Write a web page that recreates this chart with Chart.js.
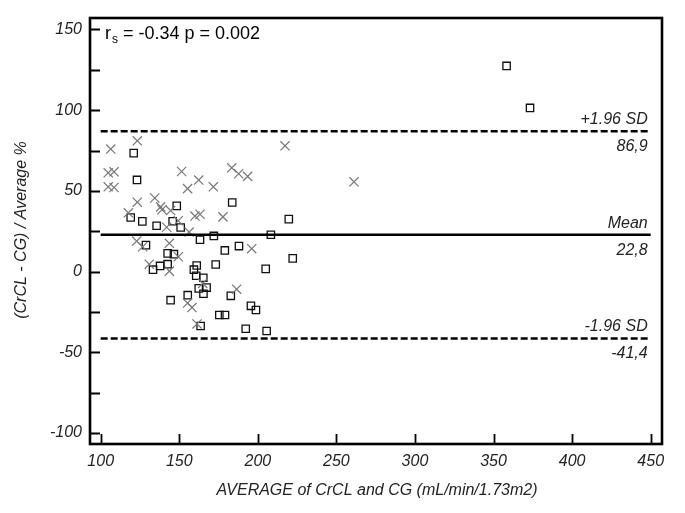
<!DOCTYPE html>
<html lang="en">
<head>
<meta charset="UTF-8">
<title>CrCL vs CG - Bland-Altman</title>
<script src="https://cdn.jsdelivr.net/npm/chart.js"></script>
<style>
  body { margin: 0; background: #fff; }
  #wrap { width: 685px; height: 513px; }
</style>
</head>
<body>
<div id="wrap"><canvas id="baChart" width="685" height="513"></canvas></div>
<script>
  // crosses: average (x) and difference % (y)
  const crossX = [106.4, 123.3, 104.8, 108.5, 104.8, 108.5, 151.5, 162.4, 155.3, 171.7,
                  183.4, 187.8, 193.5, 217.3, 261.2, 123.3, 134.4, 138.2, 139.0, 144.5,
                  117.6, 160.0, 163.2, 177.8, 142.0, 149.4, 156.3, 143.7, 122.9, 126.7,
                  149.4, 130.9, 143.7, 196.1, 164.9, 186.5, 155.3, 158.1, 161.3];
  const crossY = [75.9, 81.0, 61.2, 61.8, 52.5, 52.1, 62.0, 56.7, 51.4, 52.5,
                  64.3, 60.6, 59.0, 77.9, 55.6, 43.0, 45.6, 40.1, 38.3, 37.8,
                  36.4, 34.4, 35.5, 33.9, 27.5, 31.5, 24.5, 17.5, 18.9, 15.4,
                  9.2, 4.6, 0.3, 14.2, -7.3, -10.9, -19.5, -22.3, -32.4];

  // open squares
  const squareX = [358.3, 373.2, 121.0, 123.1, 148.4, 183.7, 219.7, 119.1, 126.5, 135.6,
                   145.8, 150.9, 163.2, 172.0, 208.3, 128.8, 179.0, 188.0, 142.6, 146.6,
                   222.2, 133.3, 137.8, 142.6, 161.1, 159.3, 173.2, 205.0, 160.8, 165.3,
                   162.4, 167.4, 165.4, 155.4, 144.5, 182.8, 175.5, 179.1, 195.6, 198.8,
                   163.6, 192.3, 205.6];
  const squareY = [127.4, 101.4, 73.4, 56.8, 40.7, 42.8, 32.5, 33.5, 31.1, 28.4,
                   31.2, 27.3, 19.7, 22.1, 22.8, 16.4, 13.1, 15.8, 11.3, 10.8,
                   8.2, 1.2, 3.5, 4.6, 3.8, 1.2, 4.4, 1.7, -2.6, -3.8,
                   -10.4, -9.9, -13.7, -14.6, -17.7, -15.0, -26.9, -26.9, -21.2, -23.8,
                   -33.7, -35.4, -36.8];

  // mean and limits of agreement
  const limitValues = [86.9, 22.8, -41.4];
  const limitNames = ['+1.96 SD', 'Mean', '-1.96 SD'];
  const limitLabels = ['86,9', '22,8', '-41,4'];
  const limitFrom = 100, limitTo = 450;

  const xTickValues = [100, 150, 200, 250, 300, 350, 400, 450];
  const yTickValues = [-100, -75, -50, -25, 0, 25, 50, 75, 100, 125, 150];
  const yTickLabels = [-100, -50, 0, 50, 100, 150];

  const statText = ' = -0.34 p = 0.002';
  const xTitle = 'AVERAGE of CrCL and CG (mL/min/1.73m2)';
  const yTitle = '(CrCL - CG) / Average %';

  const FONT = "'Liberation Sans', Arial, sans-serif";

  const limitSets = limitValues.map((v, i) => ({
    label: limitNames[i],
    data: [{x: limitFrom, y: v}, {x: limitTo, y: v}],
    showLine: true,
    pointRadius: 0,
    borderColor: '#000',
    borderWidth: 2.6,
    borderDash: i === 1 ? [] : [7, 3]
  }));

  const decorations = {
    id: 'decorations',
    afterDraw(chart) {
      const ctx = chart.ctx;
      const a = chart.chartArea;
      const xs = chart.scales.x, ys = chart.scales.y;
      ctx.save();

      // inward ticks
      ctx.strokeStyle = '#000';
      ctx.lineWidth = 1.8;
      ctx.beginPath();
      yTickValues.forEach(v => {
        const py = Math.round(ys.getPixelForValue(v)) + 0.5;
        ctx.moveTo(a.left, py);
        ctx.lineTo(a.left + 10, py);
      });
      xTickValues.forEach(v => {
        const px = Math.round(xs.getPixelForValue(v)) + 0.5;
        ctx.moveTo(px, a.bottom);
        ctx.lineTo(px, a.bottom - 10);
      });
      ctx.stroke();

      // frame
      ctx.lineWidth = 2.6;
      ctx.strokeRect(a.left, a.top, a.right - a.left, a.bottom - a.top);

      // limit labels
      ctx.fillStyle = '#222';
      ctx.font = 'italic 16px ' + FONT;
      ctx.textAlign = 'right';
      limitValues.forEach((v, i) => {
        const py = ys.getPixelForValue(v);
        const px = xs.getPixelForValue(limitTo) - 3;
        ctx.textBaseline = 'alphabetic';
        ctx.fillText(limitNames[i], px, py - 7);
        ctx.fillText(limitLabels[i], px, py + 20);
      });

      // correlation annotation
      ctx.textAlign = 'left';
      ctx.fillStyle = '#000';
      ctx.font = '18px ' + FONT;
      ctx.fillText('r', 105, 39);
      const rw = ctx.measureText('r').width;
      ctx.font = '12px ' + FONT;
      ctx.fillText('s', 105 + rw + 1, 43);
      const sw = ctx.measureText('s').width;
      ctx.font = '18px ' + FONT;
      ctx.fillText(statText, 105 + rw + sw + 1, 39);

      // axis titles
      ctx.fillStyle = '#222';
      ctx.font = 'italic 16px ' + FONT;
      ctx.textAlign = 'center';
      ctx.textBaseline = 'middle';
      ctx.fillText(xTitle, (a.left + a.right) / 2 + 1, 491);
      ctx.translate(22, 230);
      ctx.rotate(-Math.PI / 2);
      ctx.fillText(yTitle, 0, 0);
      ctx.restore();
    }
  };

  new Chart(document.getElementById('baChart').getContext('2d'), {
    type: 'scatter',
    data: {
      datasets: [
        ...limitSets,
        {
          label: 'crosses',
          data: crossX.map((x, i) => ({x: x, y: crossY[i]})),
          pointStyle: 'crossRot',
          pointRadius: 6.5,
          borderColor: '#777',
          borderWidth: 1.2
        },
        {
          label: 'squares',
          data: squareX.map((x, i) => ({x: x, y: squareY[i]})),
          pointStyle: 'rect',
          pointRadius: 5.2,
          borderColor: '#111',
          backgroundColor: 'rgba(0,0,0,0)',
          borderWidth: 1.3
        }
      ]
    },
    options: {
      responsive: false,
      animation: false,
      layout: { padding: { top: 18, right: 23, left: 0, bottom: 0 } },
      plugins: { legend: { display: false }, tooltip: { enabled: false } },
      scales: {
        x: {
          type: 'linear',
          min: 93.2,
          max: 457.2,
          afterBuildTicks: s => { s.ticks = xTickValues.map(v => ({value: v})); },
          afterFit: s => { s.height = 69; },
          grid: { display: false, drawTicks: false },
          border: { display: false },
          ticks: {
            padding: 8,
            color: '#222',
            maxRotation: 0,
            font: { family: FONT, size: 16, style: 'italic' }
          }
        },
        y: {
          type: 'linear',
          min: -106.8,
          max: 157.1,
          afterBuildTicks: s => { s.ticks = yTickValues.map(v => ({value: v})); },
          afterFit: s => { s.width = 90; },
          grid: { display: false, drawTicks: false },
          border: { display: false },
          ticks: {
            padding: 8,
            color: '#222',
            autoSkip: false,
            font: { family: FONT, size: 16, style: 'italic' },
            callback: v => yTickLabels.includes(v) ? String(v) : ''
          }
        }
      }
    },
    plugins: [decorations]
  });
</script>
</body>
</html>
